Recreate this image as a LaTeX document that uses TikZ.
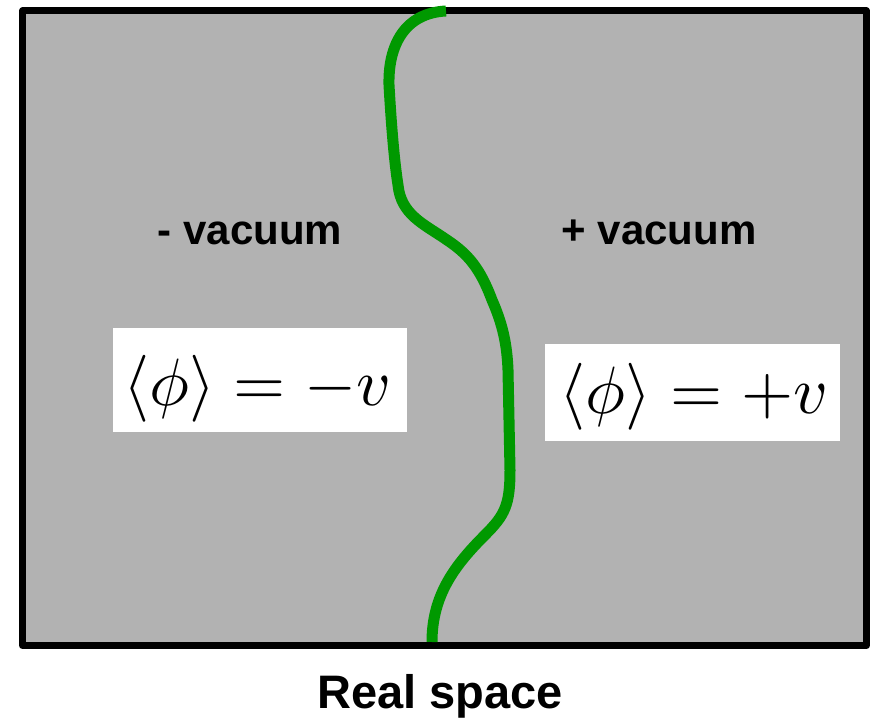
\documentclass[tikz,border=0pt]{standalone}
\usepackage{fontspec}
\setmainfont{Liberation Sans}
\begin{document}
\begin{tikzpicture}[x=1pt,y=-1pt,
  lbl/.style={anchor=base,inner sep=0pt,font=\fontsize{42}{48}\selectfont\bfseries},
  mathlbl/.style={anchor=base,inner sep=0pt,scale=6.7},
  wall/.style={draw=wallgreen,line width=11pt,line cap=butt}]
\definecolor{bggray}{RGB}{178,178,178}
\definecolor{wallgreen}{RGB}{0,153,0}
\useasboundingbox (0,0) rectangle (873,719);
\fill[bggray] (22.5,11) rectangle (866.5,645.5);
\draw[line width=7pt,line join=round] (22.5,11) rectangle (866.5,645.5);
% white boxes
\fill[white] (113,328) rectangle (407,432);
\fill[white] (545,344) rectangle (840,441);
\node[mathlbl] (lm) at (257.5,405) {$\langle\phi\rangle = -v$};
\node[mathlbl] (rm) at (694,413) {$\langle\phi\rangle = +v$};
% labels
\node[lbl] (lv) at (250,245) {- vacuum};
\node[lbl] (rv) at (659,245) {+ vacuum};
\node[lbl,font=\fontsize{47}{54}\selectfont\bfseries] (rs) at (440,708) {Real space};
% domain wall
\coordinate (w0) at (446,11);
\coordinate (w1) at (389,85);
\coordinate (w2) at (398,185);
\coordinate (w3) at (447,240);
\coordinate (w4) at (492,300);
\coordinate (w5) at (508,370);
\coordinate (w6) at (510,470);
\coordinate (w7) at (485,535);
\coordinate (w8) at (432,642);
\draw[wall]
  (w0) .. controls (405,13) and (388,45) .. (w1)
  .. controls (391,120) and (394,160) .. (w2)
  .. controls (401,215) and (424,224) .. (w3)
  .. controls (468,254) and (480,268) .. (w4)
  .. controls (503,325) and (507,345) .. (w5)
  -- (w6)
  .. controls (510,505) and (505,515) .. (w7)
  .. controls (455,565) and (432,595) .. (w8);
\end{tikzpicture}
\end{document}
